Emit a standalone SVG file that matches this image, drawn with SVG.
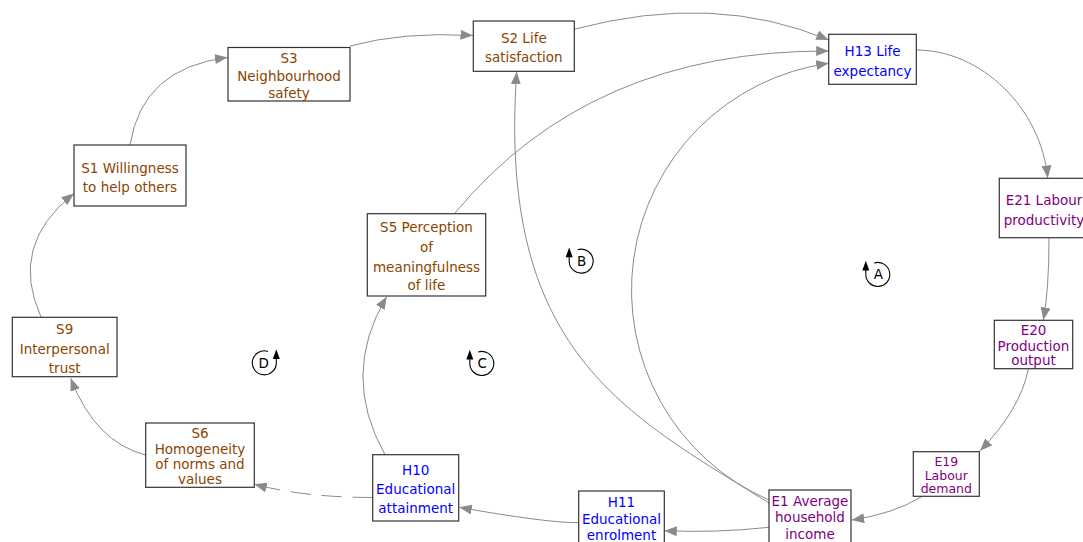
<svg xmlns="http://www.w3.org/2000/svg" xmlns:xlink="http://www.w3.org/1999/xlink" width="1083" height="542" viewBox="0 0 1083 542">
  <style>
    .box { fill: #ffffff; stroke: #333333; stroke-width: 1.2; }
    .lbl { font-family: "DejaVu Sans", Verdana, sans-serif; font-size: 13.5px; text-anchor: middle; }
    .tight { font-size: 12.5px; }
    .soc { fill: #8b4500; }
    .hum { fill: #0000ff; }
    .eco { fill: #800080; }
    .link { fill: none; stroke: #8a8a8a; stroke-width: 1; marker-end: url(#arrow); }
    .dash { stroke-dasharray: 20 11; }
    .loop { fill: none; stroke: #000000; stroke-width: 1.1; }
    .loopTxt { font-family: "DejaVu Sans", Verdana, sans-serif; font-size: 13.5px; text-anchor: middle; fill: #000000; }
  </style>
  <defs>
    <marker id="arrow" markerUnits="userSpaceOnUse" markerWidth="13" markerHeight="10" viewBox="0 0 13 10" refX="12.5" refY="5" orient="auto">
      <path d="M0,0 L12.5,5 L0,10 z" fill="#8a8a8a"/>
    </marker>
    <!-- loop symbol: arc with upward arrow on its left side -->
    <g id="loopSym">
      <path class="loop" d="M-4.1,-11.3 A12,12 0 1 1 -12.5,0 L-12.5,-5"/>
      <path d="M-12.5,-13.5 L-16,-3.8 L-9,-3.8 z" fill="#000000"/>
    </g>
  </defs>

  <rect width="1083" height="542" fill="#ffffff"/>

  <g id="connectors">
    <path class="link" d="M41,317 Q8.5,245 74,193.5"/>
    <path class="link" d="M130,145 Q142,68 227.5,57.5"/>
    <path class="link" d="M350,46 Q403,31.5 473,35.5"/>
    <path class="link" d="M575,29 Q715,-8 828.7,40"/>
    <path class="link" d="M455,213 Q590,50 828.7,51"/>
    <path class="link" d="M769,500 A229,229 0 0 1 828.7,63.3"/>
    <path class="link" d="M769,503 C624.5,412.9 497.1,351.7 516.7,71.7"/>
    <path class="link" d="M916.3,50 C981,50 1041,108 1047.7,178"/>
    <path class="link" d="M1049,238 Q1049,290 1043.3,320"/>
    <path class="link" d="M1028.3,369.3 Q1020,410 980,450.7"/>
    <path class="link" d="M921.7,496.7 Q893,514 851.7,520"/>
    <path class="link" d="M769,527.3 Q717,533 664.3,530.7"/>
    <path class="link" d="M578.7,522.7 Q545,522.7 459.3,507.3"/>
    <path class="link dash" d="M372.7,497.5 Q305,497.5 254.3,484.3"/>
    <path class="link" d="M145.7,455 Q95,442 70.7,378.3"/>
    <path class="link" d="M385,454.7 Q340,374.6 386.7,296.7"/>
  </g>

  <g id="loops">
    <g id="loopA"><use xlink:href="#loopSym" href="#loopSym" transform="translate(878.3,274.3)"/><text class="loopTxt" x="878.3" y="279.2">A</text></g>
    <g id="loopB"><use xlink:href="#loopSym" href="#loopSym" transform="translate(581.7,261)"/><text class="loopTxt" x="581.7" y="265.9">B</text></g>
    <g id="loopC"><use xlink:href="#loopSym" href="#loopSym" transform="translate(482.3,363.3)"/><text class="loopTxt" x="482.3" y="368.2">C</text></g>
    <g id="loopD"><use xlink:href="#loopSym" href="#loopSym" transform="translate(263.8,362.7) scale(-1,1)"/><text class="loopTxt" x="263.8" y="367.6">D</text></g>
  </g>

  <g id="S3">
    <rect class="box" x="228" y="47.5" width="122" height="53.5"/>
    <text class="lbl soc" x="289" y="63.3">S3</text>
    <text class="lbl soc" x="289" y="81">Neighbourhood</text>
    <text class="lbl soc" x="289" y="98.3">safety</text>
  </g>
  <g id="S1">
    <rect class="box" x="74" y="145" width="112" height="61"/>
    <text class="lbl soc" x="130" y="172.7">S1 Willingness</text>
    <text class="lbl soc" x="130" y="191.7">to help others</text>
  </g>
  <g id="S2">
    <rect class="box" x="473.3" y="21" width="101" height="50.3"/>
    <text class="lbl soc" x="523.8" y="43.3">S2 Life</text>
    <text class="lbl soc" x="523.8" y="62.3">satisfaction</text>
  </g>
  <g id="H13">
    <rect class="box" x="828.7" y="34.3" width="87.6" height="50"/>
    <text class="lbl hum" x="872.5" y="55.7">H13 Life</text>
    <text class="lbl hum" x="872.5" y="75.7">expectancy</text>
  </g>
  <g id="E21">
    <rect class="box" x="999.3" y="178.3" width="90" height="59.4"/>
    <text class="lbl eco" x="1044" y="205">E21 Labour</text>
    <text class="lbl eco" x="1044" y="225">productivity</text>
  </g>
  <g id="S9">
    <rect class="box" x="12.3" y="317.3" width="104.7" height="59.4"/>
    <text class="lbl soc" x="64.7" y="334.3">S9</text>
    <text class="lbl soc" x="64.7" y="354">Interpersonal</text>
    <text class="lbl soc" x="64.7" y="372.7">trust</text>
  </g>
  <g id="S6">
    <rect class="box" x="145.7" y="423" width="108.6" height="64.3"/>
    <text class="lbl soc" x="200" y="438">S6</text>
    <text class="lbl soc" x="200" y="454">Homogeneity</text>
    <text class="lbl soc" x="200" y="469">of norms and</text>
    <text class="lbl soc" x="200" y="484">values</text>
  </g>
  <g id="S5">
    <rect class="box" x="367.3" y="213.7" width="118.4" height="82.3"/>
    <text class="lbl soc" x="426.5" y="231.7">S5 Perception</text>
    <text class="lbl soc" x="426.5" y="251.7">of</text>
    <text class="lbl soc" x="426.5" y="271.7">meaningfulness</text>
    <text class="lbl soc" x="426.5" y="290">of life</text>
  </g>
  <g id="H10">
    <rect class="box" x="372.7" y="454.7" width="86" height="66.3"/>
    <text class="lbl hum" x="415.7" y="475">H10</text>
    <text class="lbl hum" x="415.7" y="494.3">Educational</text>
    <text class="lbl hum" x="415.7" y="513.3">attainment</text>
  </g>
  <g id="H11">
    <rect class="box" x="578.7" y="491" width="85.6" height="60"/>
    <text class="lbl hum" x="621.5" y="506.7">H11</text>
    <text class="lbl hum" x="621.5" y="524.3">Educational</text>
    <text class="lbl hum" x="621.5" y="540.3">enrolment</text>
  </g>
  <g id="E1">
    <rect class="box" x="769" y="490" width="82" height="60"/>
    <text class="lbl eco" x="810" y="505.7">E1 Average</text>
    <text class="lbl eco" x="810" y="522.3">household</text>
    <text class="lbl eco" x="810" y="539">income</text>
  </g>
  <g id="E20">
    <rect class="box" x="994.3" y="320.3" width="78.4" height="48.4"/>
    <text class="lbl eco" x="1033.5" y="335">E20</text>
    <text class="lbl eco" x="1033.5" y="350.7">Production</text>
    <text class="lbl eco" x="1033.5" y="365">output</text>
  </g>
  <g id="E19">
    <rect class="box" x="913.3" y="451.7" width="66" height="44.6"/>
    <text class="lbl eco tight" x="946.3" y="466.2">E19</text>
    <text class="lbl eco tight" x="946.3" y="479.7">Labour</text>
    <text class="lbl eco tight" x="946.3" y="493.2">demand</text>
  </g>
</svg>
